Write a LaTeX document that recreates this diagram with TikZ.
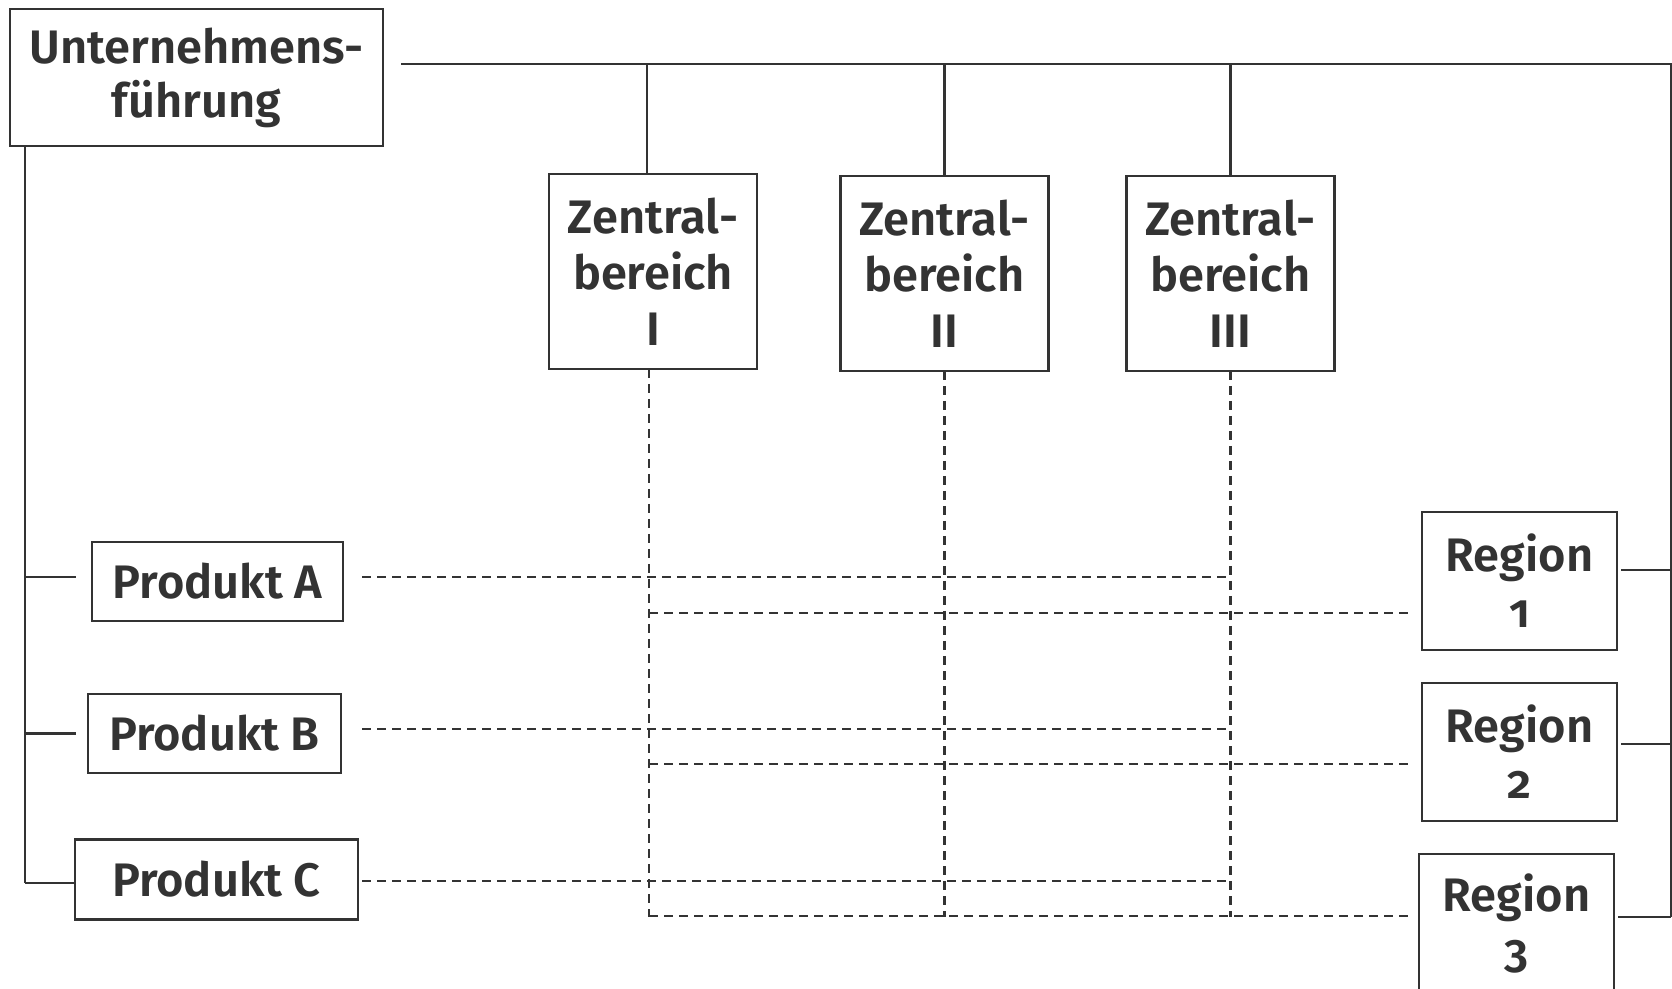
\documentclass[tikz,border=0pt]{standalone}
\usepackage{fontspec}
\setmainfont{Fira Sans}[Numbers=OldStyle, BoldFont={Fira Sans SemiBold}]
\usetikzlibrary{calc}
\definecolor{linegray}{HTML}{333333}

\begin{document}
\begin{tikzpicture}[x=0.5pt, y=-0.5pt,
						every node/.style={draw=linegray, line width=1.2pt, text=linegray,
							inner sep=0pt, outer sep=0pt, align=center,
							font=\bfseries\fontsize{23.5}{28}\selectfont},
						unitbox/.style={minimum width=104pt, minimum height=97.5pt},
						prodbox/.style={minimum height=39.5pt},
						regionbox/.style={minimum width=97.5pt, minimum height=69pt},
						link/.style={draw=linegray, line width=1.4pt},
						crosslink/.style={draw=linegray, line width=1.1pt, dash pattern=on 4.5pt off 3pt}]
					\useasboundingbox (0,0) rectangle (1672,989);
					\clip (0,0) rectangle (1672,989);

					\node[minimum width=186.5pt, minimum height=68.5pt, font=\bfseries\fontsize{23.5}{27}\selectfont] (UF) at (196.5,77.5) {Unternehmens-\\führung};

					\node[unitbox] (Z1) at (653,271.5) {Zentral-\\bereich\\I};
					\node[unitbox] (Z2) at (944.5,273.5) {Zentral-\\bereich\\II};
					\node[unitbox] (Z3) at (1230.5,273.5) {Zentral-\\bereich\\III};

					\node[prodbox, minimum width=125.5pt] (PA) at (217.5,581.5) {Produkt A};
					\node[prodbox, minimum width=126.5pt] (PB) at (214.5,733.5) {Produkt B};
					\node[prodbox, minimum width=141.5pt, minimum height=40pt] (PC) at (216.5,879.5) {Produkt C};

					\node[regionbox] (R1) at (1519.5,581) {Region\\1};
					\node[regionbox] (R2) at (1519.5,752) {Region\\2};
					\node[regionbox] (R3) at (1516.5,923) {Region\\3};

					% bus lines
					\coordinate (bus) at (1671,64);
					\coordinate (trunk) at (25,883);
					\coordinate (teeend) at (76,0);
					\coordinate (dashstart) at (362,0);
					\coordinate (dashend) at (0,917);

					% rows of the matrix
					\coordinate (rowA) at (0,577);
					\coordinate (rowB) at (0,729);
					\coordinate (rowC) at (0,881);
					\coordinate (row1) at (0,613);
					\coordinate (row2) at (0,764);
					\coordinate (row3) at (0,916);

					\draw[link] (401,64) -- (bus) -- ($(R3.east -| bus)+(0,-6)$);
					\draw[link] ($(Z1.north |- bus)+(-6,0)$) -- ($(Z1.north)+(-6,0)$);
					\draw[link] (Z2.north |- bus) -- (Z2.north);
					\draw[link] (Z3.north |- bus) -- (Z3.north);

					\draw[link] ($(R1.east)+(4,-11)$) -- ($(R1.east -| bus)+(0,-11)$);
					\draw[link] ($(R2.east)+(4,-8)$) -- ($(R2.east -| bus)+(0,-8)$);
					\draw[link] ($(R3.east)+(4,-6)$) -- ($(R3.east -| bus)+(0,-6)$);

					\draw[link] (trunk |- UF.south) -- (trunk);
					\draw[link] (trunk |- rowA) -- (teeend |- rowA);
					\draw[link] (trunk |- PB) -- (teeend |- PB);
					\draw[link] (trunk) -- (PC.west |- trunk);

					% dashed matrix
					\draw[crosslink] ($(Z1.south)+(-4,0)$) -- ($(Z1.south |- dashend)+(-4,0)$);
					\draw[crosslink] (Z2.south) -- (Z2.south |- dashend);
					\draw[crosslink] (Z3.south) -- (Z3.south |- dashend);

					\draw[crosslink] (dashstart |- rowA) -- (Z3.south |- rowA);
					\draw[crosslink] (dashstart |- rowB) -- (Z3.south |- rowB);
					\draw[crosslink] (dashstart |- rowC) -- (Z3.south |- rowC);

					\draw[crosslink, shorten >=6pt] ($(Z1.south |- row1)+(-4,0)$) -- (R1.west |- row1);
					\draw[crosslink, shorten >=4.5pt] ($(Z1.south |- row2)+(-4,0)$) -- (R2.west |- row2);
					\draw[crosslink, shorten >=5.5pt] ($(Z1.south |- row3)+(-4,0)$) -- (R3.west |- row3);
				\end{tikzpicture}
\end{document}
